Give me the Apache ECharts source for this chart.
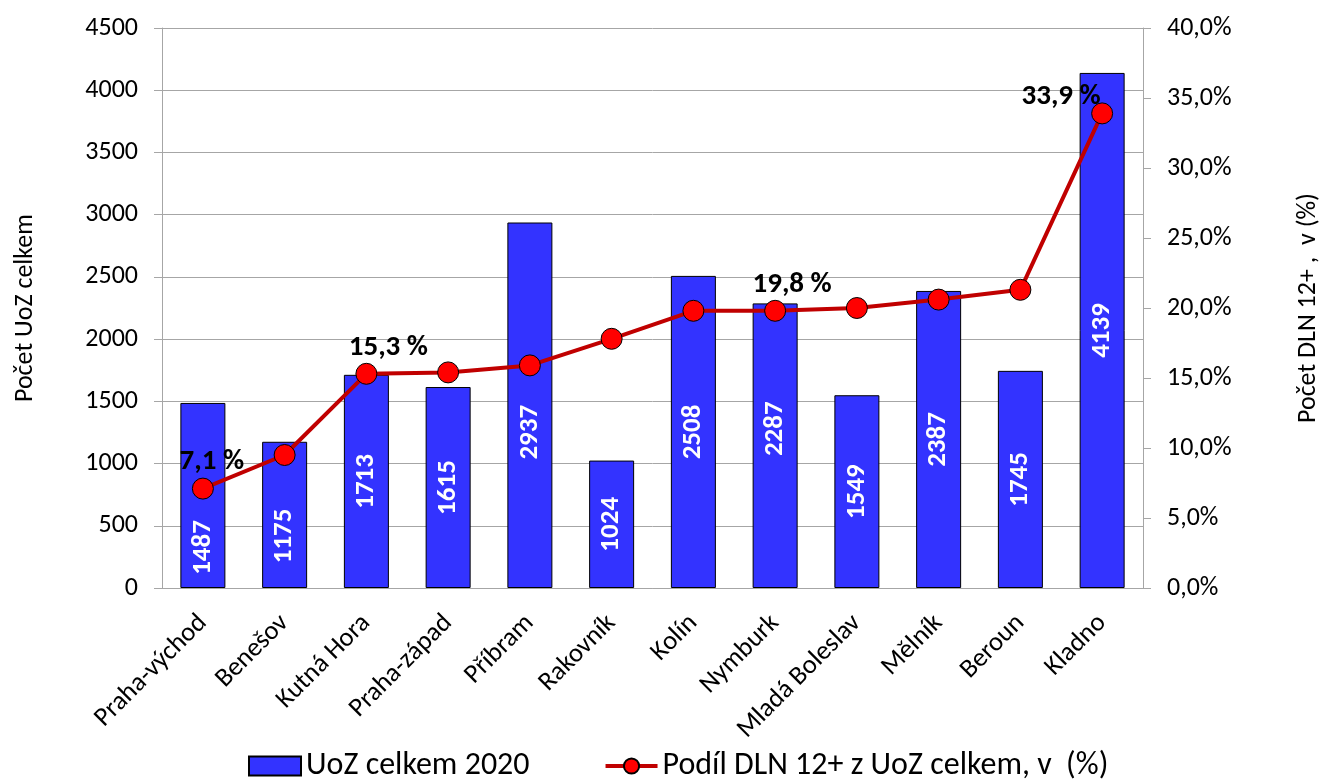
<!DOCTYPE html>
<html><head><meta charset="utf-8">
<script src="https://cdn.jsdelivr.net/npm/echarts@6/dist/echarts.min.js"></script>
<style>html,body{margin:0;padding:0;background:#fff}#c{width:1322px;height:782px}</style>
</head><body><div id="c"></div>
<script>
const categories = ['Praha-východ','Benešov','Kutná Hora','Praha-západ','Příbram','Rakovník','Kolín','Nymburk','Mladá Boleslav','Mělník','Beroun','Kladno'];
const uozTotal = [1487,1175,1713,1615,2937,1024,2508,2287,1549,2387,1745,4139];
const dlnShare = [7.1,9.5,15.3,15.4,15.9,17.8,19.8,19.8,20.0,20.6,21.3,33.9];
const labelledShareIdx = [0,2,7,11];
const seriesNames = ['UoZ celkem 2020','Podíl DLN 12+ z UoZ celkem, v  (%)'];
const axisNames = ['Počet UoZ celkem','Počet DLN 12+ ,  v (%)'];

const FONT = 'Calibri, Carlito, Lato, sans-serif';
const fmtPct = v => Number(v).toFixed(1).replace('.', ',');
const barLabelShift = {0: 52, 1: 21, 4: 27, 7: -17};
const lineLabelShift = {0: [9, 0], 2: [22, 0], 7: [17, 0], 11: [-41, 10]};
const GRAY = '#a6a6a6';

const chart = echarts.init(document.getElementById('c'), null, {renderer: 'canvas'});
chart.setOption({
  animation: false,
  textStyle: {fontFamily: FONT},
  grid: {left: 162, right: 179, top: 28, bottom: 194, containLabel: false, outerBoundsMode: 'none'},
  legend: {
    bottom: 0, left: 248, padding: 0, itemGap: 74, itemWidth: 52, itemHeight: 19,
    textStyle: {fontSize: 32, color: '#000', fontFamily: FONT},
    data: [{name: seriesNames[0], icon: 'rect'}, {name: seriesNames[1], lineStyle: {width: 4, color: '#c00000'}}]
  },
  xAxis: {
    type: 'category', data: categories,
    axisLine: {lineStyle: {color: GRAY}},
    axisTick: {length: 8, lineStyle: {color: GRAY}},
    axisLabel: {rotate: 45, fontSize: 26.5, color: '#000', margin: 31, interval: 0, fontFamily: FONT}
  },
  yAxis: [{
    type: 'value', min: 0, max: 4500, interval: 500,
    name: axisNames[0], nameLocation: 'middle', nameGap: 124, nameRotate: 90,
    nameTextStyle: {fontSize: 26, color: '#000', fontFamily: FONT},
    axisLine: {show: true, lineStyle: {color: GRAY}},
    axisTick: {show: true, length: 8, lineStyle: {color: GRAY}},
    axisLabel: {fontSize: 26, color: '#000', margin: 24, fontFamily: FONT, formatter: v => String(v)},
    splitLine: {show: true, lineStyle: {color: GRAY}}
  }, {
    type: 'value', position: 'right', min: 0, max: 40, interval: 5,
    name: axisNames[1], nameLocation: 'middle', nameGap: 152, nameRotate: 90,
    nameTextStyle: {fontSize: 26, color: '#000', fontFamily: FONT},
    axisLine: {show: true, lineStyle: {color: GRAY}},
    axisTick: {show: true, length: 8, lineStyle: {color: GRAY}},
    axisLabel: {fontSize: 26, color: '#000', margin: 24, fontFamily: FONT, formatter: v => fmtPct(v) + '%'},
    splitLine: {show: false}
  }],
  series: [{
    type: 'bar', name: seriesNames[0], barWidth: 45,
    data: uozTotal.map((v, i) => barLabelShift[i] != null ? {value: v, label: {offset: [-barLabelShift[i], 0]}} : v),
    itemStyle: {color: '#3333ff', borderColor: '#000', borderWidth: 1},
    label: {show: true, position: 'inside', rotate: 90, color: '#fff', fontWeight: 'bold', fontSize: 27, fontFamily: FONT},
    emphasis: {disabled: true}
  }, {
    type: 'line', name: seriesNames[1], yAxisIndex: 1, z: 5,
    data: dlnShare.map((v, i) => ({value: v, label: {show: labelledShareIdx.includes(i), offset: lineLabelShift[i] || [0, 0]}})),
    symbol: 'circle', symbolSize: 21,
    lineStyle: {color: '#c00000', width: 4},
    itemStyle: {color: '#ff0000', borderColor: '#000', borderWidth: 1},
    label: {position: 'top', distance: 1, fontSize: 29, fontWeight: 'bold', color: '#000', fontFamily: FONT,
      formatter: p => fmtPct(p.value) + ' %'},
    emphasis: {disabled: true}
  }]
});
</script></body></html>
